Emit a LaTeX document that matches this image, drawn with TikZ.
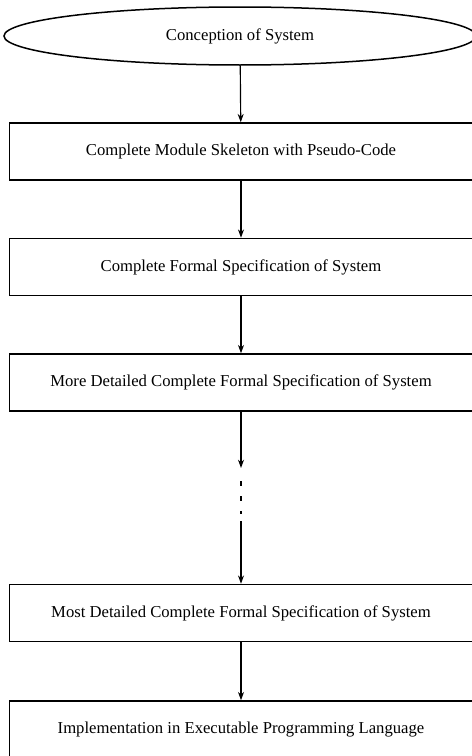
\documentclass[tikz,border=0pt]{standalone}
\usepackage{fontspec}
\setmainfont{Liberation Serif}
\usetikzlibrary{positioning,arrows.meta,shapes.geometric}
\tikzset{
  stagebox/.style={draw,line width=0.9pt,minimum width=277.8pt,minimum height=34.2pt,inner sep=0pt,align=center,font=\normalsize},
  startoval/.style={draw,ellipse,line width=0.9pt,minimum width=283.2pt,minimum height=34.8pt,inner sep=0pt,font=\normalsize},
  flow/.style={-{Stealth[length=5pt,width=3.6pt,inset=1.6pt]},line width=0.7pt},
}
\begin{document}
\begin{tikzpicture}[x=0.6pt,y=-0.6pt]
  \useasboundingbox (0,0) rectangle (471,756);
  \node[startoval] (concept) at (240,36) {Conception of System};
  \foreach \n/\y/\t in {1/151.5/Complete Module Skeleton with Pseudo-Code,
                        2/267/Complete Formal Specification of System,
                        3/382.5/More Detailed Complete Formal Specification of System,
                        4/613/Most Detailed Complete Formal Specification of System,
                        5/729.5/Implementation in Executable Programming Language}
    \node[stagebox] (b\n) at (241,\y) {\t};
  % gap between the detailed levels
  \coordinate (gapTop) at (241,468);
  \coordinate (dashTop) at (241,481);
  \coordinate (dashEnd) at (241,514);
  \coordinate (gapEnd) at (241,521);
  \draw[flow] (concept) -- (b1);
  \draw[flow] (b1) -- (b2);
  \draw[flow] (b2) -- (b3);
  \draw[flow] (b3) -- (gapTop);
  \draw[line width=0.7pt,dash pattern=on 3pt off 6pt] (dashTop) -- (dashEnd);
  \draw[flow] (gapEnd) -- (b4);
  \draw[flow] (b4) -- (b5);
\end{tikzpicture}
\end{document}
